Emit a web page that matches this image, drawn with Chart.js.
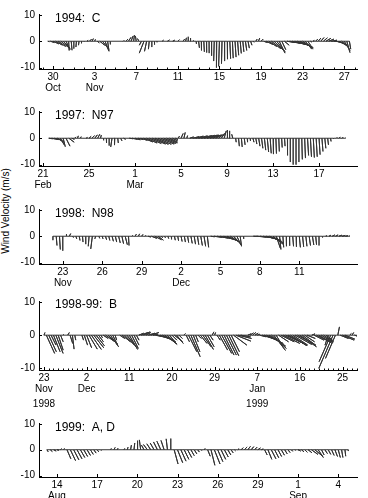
<!DOCTYPE html>
<html>
<head>
<meta charset="utf-8">
<script src="https://cdn.jsdelivr.net/npm/chart.js@4.4.1/dist/chart.umd.min.js"></script>
<style>
  body { margin: 0; background: #fff; width: 368px; height: 498px; overflow: hidden; position: relative; }
  canvas { position: absolute; left: 0; }
  #ylab {
    position: absolute; left: 5px; top: 211px;
    transform: translate(-50%, -50%) rotate(-90deg);
    font: 10px "Liberation Sans", Arial, Helvetica, sans-serif; white-space: nowrap; color: #000;
  }
</style>
</head>
<body>
<div id="ylab">Wind Velocity (m/s)</div>
<script>
// wind sticks: [day, u (m/s), v (m/s)], day counted from the first labelled tick
const p1Wind = [
  [-0.5,0.5,-0.2],[-0.25,1.5,-0.5],[0,2.2,-1.0],[0.25,2.6,-1.5],[0.5,2.8,-2.0],[0.75,3.0,-2.4],
  [1.0,2.5,-2.8],[1.25,1.5,-3.2],[1.5,0.2,-3.5],[1.75,0.3,-3.4],[2.0,0,-2.8],[2.25,-0.2,-2.2],
  [2.5,-0.2,-1.5],[2.75,-0.1,-0.8],[3.0,0,-0.2],[3.25,0.5,0.3],[3.5,0.8,0.8],[3.75,0.5,1.0],
  [4.0,0.3,0.7],[4.25,0.8,-0.6],[4.5,1.8,-1.5],[4.75,2.2,-2.8],[5.0,1.5,-3.8],[5.25,0.5,-3.5],
  [5.5,0.1,-1.2],[6.75,0.3,0.3],[7.0,0.8,0.8],[7.25,1.0,1.5],[7.5,0.8,2.0],[7.75,0.3,2.3],
  [8.0,-0.3,2.0],[8.25,-0.5,1.0],[8.5,-0.8,-1.5],[8.75,-1.8,-4.5],[9.0,-0.8,-3.8],[9.25,-0.3,-3.0],
  [9.5,0,-2.2],[9.75,0.1,-1.3],[10.0,0,-0.4],[10.5,0.5,0.4],[11.0,0.8,0.5],[11.5,0.8,0.4],
  [12.0,0.6,0.6],[12.5,0.6,0.8],[12.75,0.3,1.3],[13.0,0,1.7],[13.25,-0.2,1.2],[13.5,0,0.3],
  [13.75,0.3,-1.0],[14.0,0.3,-2.5],[14.25,0.2,-3.5],[14.5,0.2,-4.0],[14.75,0.2,-4.3],[15.0,0.1,-4.5],
  [15.25,0,-5.5],[15.5,-0.2,-7.5],[15.75,-0.3,-10.0],[16.0,-0.3,-9.5],[16.25,-0.2,-8.5],[16.5,0,-7.5],
  [16.75,0.2,-6.8],[17.0,0.3,-6.6],[17.25,0.3,-6.4],[17.5,0.4,-6.0],[17.75,0.4,-5.3],[18.0,0.4,-4.6],
  [18.25,0.4,-4.0],[18.5,0.5,-3.5],[18.75,0.5,-2.6],[19.0,0.5,-1.5],[19.25,0.3,-0.4],[19.5,0.5,0.8],
  [19.75,0.5,1.2],[20.0,0.8,0.8],[20.25,1.5,-0.5],[20.5,2.5,-1.2],[20.75,3.0,-2.0],[21.0,3.5,-2.8],
  [21.25,3.6,-3.5],[21.5,3.2,-4.0],[21.75,2.2,-4.5],[22.0,1.5,-3.2],[22.25,1.8,-1.5],[22.5,3.0,-0.5],
  [22.75,4.0,-0.8],[23.0,5.0,-1.2],[23.25,5.5,-1.6],[23.5,5.5,-2.0],[23.75,5.0,-2.4],[24.0,4.0,-2.8],
  [24.25,2.5,-3.0],[24.5,1.0,-1.5],[24.75,0.5,-0.3],[25.0,0.5,0.3],[25.25,0.8,0.8],[25.5,1.0,1.2],
  [25.75,1.2,1.4],[26.0,1.5,1.3],[26.25,1.8,1.1],[26.5,2.0,0.8],[26.75,2.2,0.4],[27.0,2.5,-0.2],
  [27.25,2.8,-0.8],[27.5,3.0,-1.6],[27.75,2.8,-2.5],[28.0,2.2,-3.5],[28.25,1.2,-4.3],[28.5,0.5,-3.0]
];
const p2Wind = [
  [0.5,1.5,-0.2],[0.75,2.5,-0.5],[1.0,3.0,-0.8],[1.25,2.5,-1.5],[1.5,1.5,-2.5],[1.75,0.8,-3.2],
  [2.0,1.5,-3.0],[2.25,2.0,-1.5],[2.5,1.0,-0.4],[2.75,0.5,0.5],[3.0,0.3,0.9],[3.25,0.3,0.6],
  [3.5,0.2,0.1],[3.75,0.5,0.3],[4.0,0.8,0.7],[4.25,1.0,1.0],[4.5,1.0,1.3],[4.75,0.8,1.5],
  [5.0,0.3,1.2],[5.25,0.2,-0.8],[5.5,0.2,-1.8],[5.75,0,-2.8],[6.0,-0.5,-3.3],[6.25,-0.3,-2.6],
  [6.5,0.2,-1.8],[6.75,0.5,-1.0],[7.0,0.8,-0.4],[7.5,1.5,-0.2],[7.75,2.0,-0.4],[8.0,2.0,-0.6],
  [8.25,2.0,-0.5],[8.5,2.5,-0.8],[8.75,3.5,-1.4],[9.0,4.0,-1.8],[9.25,4.5,-2.0],[9.5,5.0,-2.2],
  [9.75,5.0,-2.3],[10.0,5.0,-2.3],[10.25,5.0,-2.2],[10.5,4.5,-2.0],[10.75,4.0,-1.8],[11.0,3.0,-1.5],
  [11.25,2.0,-1.0],[11.5,1.0,-0.5],[11.75,0.5,0.8],[12.0,0.8,1.8],[12.25,0.5,2.2],[12.5,0.3,1.0],
  [12.75,1.5,0.5],[13.0,2.5,0.6],[13.25,3.0,0.8],[13.5,3.5,0.9],[13.75,4.0,1.0],[14.0,4.0,1.1],
  [14.25,4.0,1.2],[14.5,3.5,1.2],[14.75,3.0,1.2],[15.0,2.5,1.3],[15.25,2.0,1.5],[15.5,1.5,2.0],
  [15.75,0.8,2.8],[16.0,0.3,3.1],[16.25,-0.2,2.8],[16.5,-0.4,1.5],[16.75,0.2,-1.5],[17.0,0.3,-3.0],
  [17.25,0.3,-3.3],[17.5,0.3,-2.5],[17.75,0.3,-1.5],[18.0,0.3,-1.0],[18.25,0.4,-1.5],[18.5,0.4,-2.2],
  [18.75,0.5,-3.0],[19.0,0.5,-3.8],[19.25,0.5,-4.5],[19.5,0.5,-5.2],[19.75,0.4,-5.7],[20.0,0.3,-6.0],
  [20.25,0.2,-5.8],[20.5,0.2,-5.0],[20.75,0.2,-3.5],[21.0,0.2,-3.0],[21.25,0.1,-6.5],[21.5,0,-9.0],
  [21.75,0,-10.0],[22.0,0,-10.0],[22.25,0,-9.0],[22.5,0.2,-8.0],[22.75,0.3,-7.5],[23.0,0.4,-6.5],
  [23.25,0.4,-7.0],[23.5,0.4,-7.3],[23.75,0.4,-7.0],[24.0,0.4,-6.2],[24.25,0.4,-5.0],[24.5,0.4,-3.8],
  [24.75,0.3,-2.5],[25.0,0.2,-1.2],[25.25,0.2,-0.3],[25.5,0.3,0.3],[25.75,0.4,0.5],[26.0,0.4,0.4],
  [26.25,0.3,0.1]
];
const p3Wind = [
  [-0.75,0,-1.5],[-0.5,0.3,-3.5],[-0.25,0.3,-5.0],[0,0,-5.5],[0.25,0.3,0.8],[0.5,0.5,1.0],
  [0.75,0.3,-0.5],[1.0,0.3,-1.0],[1.25,0.3,-1.6],[1.5,0.2,-2.2],[1.75,0,-3.0],[2.0,-0.3,-3.8],
  [2.25,-0.6,-4.8],[2.5,-0.3,-1.0],[2.75,0.3,-0.8],[3.0,0.3,-1.0],[3.25,0.4,-1.3],[3.5,0.4,-1.6],
  [3.75,0.5,-1.9],[4.0,0.5,-2.2],[4.25,0.6,-2.5],[4.5,0.6,-2.8],[4.75,0.8,-3.2],[5.0,0.2,-3.5],
  [5.25,0.3,0.3],[5.5,0.5,0.8],[5.75,0.5,0.9],[6.0,0.5,0.7],[6.25,0.3,0.3],[6.5,1.0,-0.3],
  [6.75,2.0,-0.8],[7.0,2.5,-1.3],[7.25,2.0,-1.5],[7.5,0.5,-0.6],[7.75,0.3,-0.6],[8.0,0.3,-0.9],
  [8.25,0.3,-1.2],[8.5,0.3,-1.5],[8.75,0.3,-1.7],[9.0,0.4,-2.0],[9.25,0.4,-2.2],[9.5,0.4,-2.4],
  [9.75,0.5,-2.7],[10.0,0.5,-3.0],[10.25,0.5,-3.2],[10.5,0.6,-3.5],[10.75,0.6,-3.8],[11.0,0.5,-4.2],
  [11.25,1.5,-0.2],[11.5,3.0,-0.4],[11.75,4.0,-0.7],[12.0,4.5,-1.0],[12.25,4.5,-1.4],[12.5,4.0,-1.8],
  [12.75,3.5,-2.3],[13.0,2.5,-2.8],[13.25,1.5,-3.3],[13.5,0.5,-3.8],[13.75,0.2,-1.0],[14.5,2.0,-0.1],
  [14.75,3.5,-0.3],[15.0,5.0,-0.6],[15.25,5.5,-1.0],[15.5,5.5,-1.6],[15.75,5.0,-2.4],[16.0,4.0,-3.2],
  [16.25,1.5,-4.5],[16.5,0.5,-5.0],[16.75,0.3,-4.2],[17.0,0.2,-3.8],[17.25,0.2,-3.6],[17.5,0.3,-3.8],
  [17.75,0.3,-4.0],[18.0,0.4,-4.2],[18.25,0.4,-4.0],[18.5,0.4,-3.8],[18.75,0.5,-3.5],[19.0,0.5,-3.3],
  [19.25,0.3,-3.2],[19.5,0,-3.5],[19.75,0.2,-0.5],[20.0,0.5,0.2],[20.25,0.8,0.4],[20.5,1.0,0.5],
  [20.75,1.0,0.5],[21.0,1.2,0.4],[21.25,1.2,0.3],[21.5,1.0,0.2],[21.75,0.5,0.1]
];
const p4Wind = [
  [0,0.3,0.8],[0.5,2.5,-5.5],[1.0,2.3,-5.0],[1.5,1.5,-3.0],[2.0,2.0,-5.0],[2.5,2.2,-5.5],
  [3.0,1.5,-4.5],[3.5,0.8,-2.0],[4.0,0.2,0.2],[5.0,0.5,0.8],[5.5,0.8,-2.5],[6.0,0.5,-4.2],
  [6.5,0.3,-1.5],[8.0,0.5,-1.5],[8.5,1.0,-3.0],[9.0,1.5,-3.8],[9.5,2.5,-4.2],[10.0,3.0,-4.3],
  [10.5,3.0,-3.8],[11.0,2.5,-3.2],[11.5,1.5,-2.0],[12.0,0.5,-0.8],[12.5,1.5,-1.0],[13.0,2.5,-1.8],
  [13.5,3.0,-2.8],[14.0,2.5,-3.5],[14.5,1.5,-3.0],[15.0,0.5,-1.5],[16.0,1.5,-1.0],[16.5,2.5,-2.0],
  [17.0,3.0,-3.0],[17.5,3.0,-3.8],[18.0,2.5,-4.3],[18.5,2.0,-4.0],[19.0,1.5,-3.0],[19.5,0.8,-1.5],
  [20.0,1.5,0.6],[20.5,2.0,0.8],[21.0,2.0,1.0],[21.5,1.5,0.8],[22.0,2.0,0.6],[22.5,2.5,0.8],
  [23.0,1.5,0.3],[23.5,2.5,-0.5],[24.0,3.5,-1.0],[24.5,4.0,-1.5],[25.0,4.0,-2.0],[25.5,3.5,-2.5],
  [26.0,3.0,-2.8],[26.5,2.0,-2.5],[27.0,1.5,-1.5],[27.5,2.5,-2.0],[28.0,2.0,-2.5],[28.5,1.0,-1.0],
  [29.5,0.5,0.5],[30.0,1.0,-2.0],[30.5,2.5,-5.0],[31.0,2.8,-6.5],[31.5,2.0,-5.0],[32.0,0.8,-2.0],
  [32.5,1.0,-1.0],[33.0,2.0,-2.5],[33.5,2.5,-3.5],[34.0,2.5,-4.3],[34.5,2.0,-3.5],[35.0,1.0,-1.5],
  [35.5,0.5,1.0],[36.0,0.3,0.8],[36.5,1.0,-1.5],[37.0,2.5,-4.5],[37.5,3.0,-5.5],[38.0,3.0,-6.0],
  [38.5,3.0,-6.0],[39.0,3.0,-6.2],[39.5,2.5,-5.0],[40.0,4.0,-3.0],[40.5,4.5,-1.8],[41.0,4.0,-1.0],
  [41.5,3.0,-0.5],[43.0,1.0,0.4],[43.5,1.0,0.7],[44.0,1.0,0.8],[44.5,1.0,0.6],[45.0,0.8,0.3],
  [45.5,2.0,-0.5],[46.0,3.5,-1.0],[46.5,4.5,-1.8],[47.0,5.0,-2.5],[47.5,5.0,-3.3],[48.0,4.5,-4.0],
  [48.5,3.5,-4.6],[49.0,2.0,-3.5],[49.5,3.0,-2.0],[50.0,4.0,-2.0],[50.5,5.0,-2.5],[51.0,5.5,-2.5],
  [51.5,5.5,-3.0],[52.0,5.0,-3.2],[52.5,4.5,-3.0],[53.0,5.0,-2.8],[53.5,5.5,-3.0],[54.0,5.0,-3.5],
  [54.5,4.0,-3.0],[55.0,3.0,-2.0],[55.5,2.5,-1.0],[56.5,1.0,0.4],[57.0,3.0,-1.5],[57.5,4.0,-2.0],
  [58.0,4.0,-2.5],[58.5,3.5,-2.2],[59.0,3.0,-2.0],[59.5,2.0,-1.5],[60.0,-1.0,-3.0],[60.5,-3.5,-8.0],
  [61.0,-4.3,-10.0],[61.5,-3.0,-7.0],[62.0,0.5,2.5],[62.5,2.5,-1.0],[63.0,3.5,-1.5],[63.5,3.0,-1.2],
  [64.5,0.5,0.5],[65.0,0.5,0.8],[65.5,1.5,-0.5],[66.0,1.0,-1.5]
];
const p5Wind = [
  [-0.75,0.5,-0.8],[-0.5,0.8,-0.7],[-0.25,1.0,-0.5],[0,0.8,-0.2],[0.25,0.5,0.4],[0.5,0.3,0.5],
  [0.75,1.5,-3.5],[1.0,2.0,-4.2],[1.25,2.0,-3.9],[1.5,1.9,-3.5],[1.75,1.7,-3.0],[2.0,1.5,-2.6],
  [2.25,1.3,-2.2],[2.5,1.1,-1.8],[2.75,0.9,-1.3],[3.0,0.6,-0.8],[3.25,0.3,-0.3],
  [4.0,0.3,0.5],[4.25,0.5,0.9],[4.5,0.3,0.6],[5.0,0.3,0.5],[5.25,0.3,1.0],
  [5.5,0.3,1.8],[5.75,0.3,2.6],[6.0,0.2,3.5],[6.25,-0.5,3.8],[6.5,-1.0,1.8],[6.75,-1.5,2.0],
  [7.0,-1.5,2.3],[7.25,-1.5,2.6],[7.5,-1.5,3.0],[7.75,-1.5,3.3],[8.0,-1.2,3.6],[8.25,-0.5,4.2],
  [8.5,0,4.3],[8.75,1.5,-5.5],[9.0,2.0,-5.0],[9.25,2.0,-4.4],[9.5,1.8,-3.7],[9.75,1.6,-3.0],
  [10.0,1.3,-2.3],[10.25,1.0,-1.6],[10.5,0.7,-0.9],[10.75,0.3,-0.3],[11.0,0.3,0.5],[11.25,1.0,-2.5],
  [11.5,1.5,-6.0],[11.75,2.2,-5.5],[12.0,2.0,-4.6],[12.25,1.8,-3.7],[12.5,1.5,-2.8],[12.75,1.2,-2.0],
  [13.0,0.8,-1.2],[13.25,0.4,-0.4],[13.5,0.5,0.4],[13.75,0.8,0.8],[14.0,1.0,1.1],[14.25,1.0,1.3],
  [14.5,1.0,1.2],[14.75,1.0,1.0],[15.0,1.0,0.7],[15.25,0.8,0.3],[15.5,1.0,-2.0],[15.75,1.5,-3.7],
  [16.0,1.8,-3.5],[16.25,1.6,-3.1],[16.5,1.4,-2.6],[16.75,1.2,-2.1],[17.0,1.0,-1.6],[17.25,0.8,-1.1],
  [17.5,0.5,-0.6],[17.75,0.3,-0.2],[18.0,1.0,-0.5],[18.25,1.0,-0.8],[18.5,1.0,-1.0],[18.75,1.5,-1.2],
  [19.0,2.5,-1.8],[19.25,3.0,-2.5],[19.5,2.0,-3.0],[19.75,1.0,-2.0],[20.0,1.0,-1.5],[20.25,1.0,-1.8],
  [20.5,1.0,-2.2],[20.75,1.0,-2.6],[21.0,0.8,-3.0],[21.25,0.5,-3.0],[21.5,0.3,-2.5],[21.75,0,-0.5]
];

// axis ticks
const p1TickDays = [0, 4, 8, 12, 16, 20, 24, 28];
const p1TickNums = ['30', '3', '7', '11', '15', '19', '23', '27'];
const p1TickMonths = ['Oct', 'Nov', '', '', '', '', '', ''];
const p2TickDays = [0, 4, 8, 12, 16, 20, 24];
const p2TickNums = ['21', '25', '1', '5', '9', '13', '17'];
const p2TickMonths = ['Feb', '', 'Mar', '', '', '', ''];
const p3TickDays = [0, 3, 6, 9, 12, 15, 18];
const p3TickNums = ['23', '26', '29', '2', '5', '8', '11'];
const p3TickMonths = ['Nov', '', '', 'Dec', '', '', ''];
const p4TickDays = [0, 9, 18, 27, 36, 45, 54, 63];
const p4TickNums = ['23', '2', '11', '20', '29', '7', '16', '25'];
const p4TickMonths = ['Nov', 'Dec', '', '', '', 'Jan', '', ''];
const p4YearDays = [0, 45];
const p4Years = ['1998', '1999'];
const p5TickDays = [0, 3, 6, 9, 12, 15, 18, 21];
const p5TickNums = ['14', '17', '20', '23', '26', '29', '1', '4'];
const p5TickMonths = ['Aug', '', '', '', '', '', 'Sep', ''];
const yTickValues = [-10, 0, 10];
const titles = ['1994:  C', '1997:  N97', '1998:  N98', '1998-99:  B', '1999:  A, D'];

const FONT = '"Liberation Sans", Arial, Helvetica, sans-serif';
Chart.defaults.font.family = FONT;
Chart.defaults.color = '#000';

const PLOT_LEFT = 39, PLOT_RIGHT = 357, PAD_TOP = 10, X_AXIS_H = 45;
const Y_MIN = -10.5, Y_MAX = 10.3;

const panels = [
  { wind: p1Wind, days: p1TickDays, nums: p1TickNums, months: p1TickMonths, top: 14, bottom: 69, xMin: -1.35, xMax: 29.23, minor: true, titleDy: 5 },
  { wind: p2Wind, days: p2TickDays, nums: p2TickNums, months: p2TickMonths, top: 111, bottom: 166, xMin: -0.35, xMax: 27.3, minor: false, titleDy: 5 },
  { wind: p3Wind, days: p3TickDays, nums: p3TickNums, months: p3TickMonths, top: 209, bottom: 264.5, xMin: -1.81, xMax: 22.39, minor: false, titleDy: 5 },
  { wind: p4Wind, days: p4TickDays, nums: p4TickNums, months: p4TickMonths, top: 301, bottom: 370, xMin: -1.05, xMax: 66.05, minor: true, titleDy: 4,
    yearDays: p4YearDays, years: p4Years },
  { wind: p5Wind, days: p5TickDays, nums: p5TickNums, months: p5TickMonths, top: 423, bottom: 477, xMin: -1.34, xMax: 22.4, minor: false, titleDy: 5 }
];

const panelDecor = {
  id: 'panelDecor',
  afterDraw(chart, args, o) {
    const { ctx, chartArea: a, scales: { x, y } } = chart;
    ctx.save();
    ctx.strokeStyle = '#000';
    ctx.lineWidth = 1;
    ctx.beginPath();
    o.days.forEach(d => {
      const px = Math.round(x.getPixelForValue(d)) + 0.5;
      ctx.moveTo(px, a.bottom); ctx.lineTo(px, a.bottom - 3);
    });
    yTickValues.forEach(v => {
      const py = Math.round(y.getPixelForValue(v)) + 0.5;
      ctx.moveTo(a.left, py); ctx.lineTo(a.left + 3, py);
    });
    if (o.minor) {
      for (let d = Math.ceil(x.min); d <= x.max; d++) {
        const px = Math.round(x.getPixelForValue(d)) + 0.5;
        ctx.moveTo(px, a.bottom); ctx.lineTo(px, a.bottom - 1.5);
      }
    }
    ctx.stroke();

    ctx.fillStyle = '#000';
    ctx.font = '12px ' + FONT;
    ctx.textAlign = 'left';
    ctx.textBaseline = 'middle';
    ctx.fillText(o.title, a.left + 16, a.top + o.titleDy);

    if (o.yearDays) {
      ctx.font = '10px ' + FONT;
      ctx.textAlign = 'center';
      o.yearDays.forEach((d, i) => ctx.fillText(o.years[i], x.getPixelForValue(d), a.bottom + 34));
    }
    ctx.restore();
  }
};

panels.forEach((p, k) => {
  const c = document.createElement('canvas');
  c.width = 368;
  c.height = p.bottom - p.top + PAD_TOP + X_AXIS_H;
  c.style.top = (p.top - PAD_TOP) + 'px';
  document.body.appendChild(c);

  // same pixel scale for u and v
  const pxPerUnit = (p.bottom - p.top) / (Y_MAX - Y_MIN);
  const pxPerDay = (PLOT_RIGHT - PLOT_LEFT) / (p.xMax - p.xMin);
  const daysPerUnit = pxPerUnit / pxPerDay;

  const pts = [];
  p.wind.forEach(([t, u, v]) => {
    pts.push({ x: t, y: 0 }, { x: t + u * daysPerUnit, y: v }, { x: t, y: 0 });
  });

  new Chart(c, {
    type: 'line',
    data: {
      datasets: [{
        data: pts,
        borderColor: '#333',
        borderWidth: 1,
        pointRadius: 0,
        tension: 0,
        fill: false,
        borderJoinStyle: 'bevel'
      }]
    },
    options: {
      responsive: false,
      animation: false,
      layout: { padding: { top: PAD_TOP, right: 368 - PLOT_RIGHT, left: 0, bottom: 0 } },
      plugins: {
        legend: { display: false },
        tooltip: { enabled: false },
        panelDecor: { days: p.days, minor: p.minor, title: titles[k], titleDy: p.titleDy, yearDays: p.yearDays, years: p.years }
      },
      scales: {
        x: {
          type: 'linear',
          min: p.xMin,
          max: p.xMax,
          grid: { display: false, drawTicks: false },
          border: { display: true, color: '#000', width: 1 },
          afterBuildTicks: s => { s.ticks = p.days.map(v => ({ value: v })); },
          afterFit: s => { s.height = X_AXIS_H; },
          ticks: {
            autoSkip: false,
            maxRotation: 0,
            padding: 3,
            font: { size: 10, lineHeight: 1.1 },
            callback: (v, i) => p.months[i] ? [p.nums[i], p.months[i]] : p.nums[i]
          }
        },
        y: {
          min: Y_MIN,
          max: Y_MAX,
          grid: { display: false, drawTicks: false },
          border: { display: true, color: '#000', width: 1 },
          afterBuildTicks: s => { s.ticks = yTickValues.map(v => ({ value: v })); },
          afterFit: s => { s.width = PLOT_LEFT; },
          ticks: { padding: 4, font: { size: 10 } }
        }
      }
    },
    plugins: [panelDecor]
  });
});
</script>
</body>
</html>
